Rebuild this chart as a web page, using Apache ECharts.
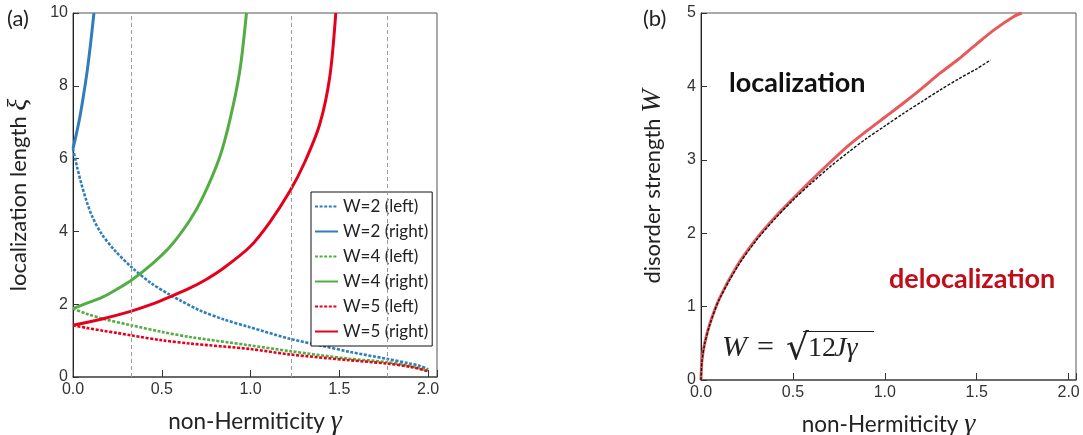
<!DOCTYPE html>
<html><head><meta charset="utf-8">
<script src="https://cdn.jsdelivr.net/npm/echarts@6/dist/echarts.min.js"></script>
<style>html,body{margin:0;padding:0;background:#fff}#c{width:1083px;height:435px}</style>
</head><body><div id="c"></div>
<script>
// ---------- Panel (a) data: localization length xi vs gamma ----------
const w2LeftGamma  = [0, 0.023, 0.047, 0.075, 0.109, 0.16, 0.235, 0.329, 0.442, 0.545, 0.601, 0.714, 0.85, 0.995, 1.221, 1.4, 1.559, 1.766, 1.897, 1.95, 2.0];
const w2LeftXi     = [6.27, 5.77, 5.31, 4.85, 4.40, 3.94, 3.48, 3.02, 2.57, 2.26, 2.11, 1.83, 1.58, 1.37, 1.05, 0.86, 0.69, 0.5, 0.37, 0.31, 0.21];
const w2RightGamma = [0, 0.02, 0.04, 0.06, 0.08, 0.1, 0.118];
const w2RightXi    = [6.27, 6.70, 7.18, 7.76, 8.41, 9.2, 10.0];
const w4LeftGamma  = [0, 0.075, 0.169, 0.329, 0.5, 0.657, 0.995, 1.221, 1.559, 1.766, 1.9, 2.0];
const w4LeftXi     = [1.88, 1.74, 1.6, 1.42, 1.24, 1.10, 0.87, 0.71, 0.5, 0.41, 0.3, 0.18];
const w4RightGamma = [0, 0.075, 0.169, 0.25, 0.329, 0.446, 0.545, 0.657, 0.732, 0.826, 0.883, 0.939, 0.977];
const w4RightXi    = [1.88, 2.02, 2.2, 2.42, 2.66, 3.11, 3.57, 4.3, 4.95, 6.04, 7.05, 8.4, 10.0];
const w5LeftGamma  = [0, 0.075, 0.169, 0.25, 0.329, 0.5, 0.657, 0.995, 1.221, 1.559, 1.766, 1.9, 2.0];
const w5LeftXi     = [1.42, 1.35, 1.27, 1.21, 1.14, 1.01, 0.92, 0.77, 0.62, 0.46, 0.37, 0.28, 0.16];
const w5RightGamma = [0, 0.169, 0.329, 0.445, 0.545, 0.657, 0.75, 0.845, 0.995, 1.108, 1.221, 1.305, 1.39, 1.446, 1.48];
const w5RightXi    = [1.42, 1.6, 1.81, 2.0, 2.2, 2.44, 2.68, 2.98, 3.57, 4.25, 5.1, 5.9, 6.95, 8.24, 10.0];
const guideGammas  = [0.33, 1.23, 1.77];
const seriesNamesA = ['W=2 (left)', 'W=2 (right)', 'W=4 (left)', 'W=4 (right)', 'W=5 (left)', 'W=5 (right)'];

// ---------- Panel (b) data: phase boundary W vs gamma ----------
const boundaryGamma = [0, 0.005, 0.02, 0.05, 0.1, 0.2, 0.3, 0.4, 0.5, 0.6, 0.7, 0.8, 0.9, 1.0, 1.1, 1.2, 1.3, 1.4, 1.5, 1.6, 1.7, 1.745];
const boundaryW     = [0, 0.26, 0.5, 0.78, 1.11, 1.57, 1.92, 2.21, 2.47, 2.72, 2.96, 3.19, 3.39, 3.58, 3.77, 3.97, 4.18, 4.37, 4.58, 4.78, 4.95, 5.0];
const sqrtGamma     = [0, 0.005, 0.02, 0.05, 0.1, 0.2, 0.3, 0.4, 0.5, 0.6, 0.7, 0.8, 0.9, 1.0, 1.1, 1.2, 1.3, 1.4, 1.5, 1.575];
const sqrtW         = [0, 0.25, 0.49, 0.77, 1.1, 1.55, 1.9, 2.19, 2.45, 2.68, 2.9, 3.1, 3.29, 3.46, 3.63, 3.79, 3.95, 4.1, 4.24, 4.36];

const BLUE = '#2f7dbd', GREEN = '#52ad43', RED = '#e5001b', PINK = '#e8595c';
const SANS = 'Lato', TICK = 'Liberation Sans', MATH = 'Liberation Serif';
const zip = (a, b) => a.map((v, i) => [v, b[i]]);

const chart = echarts.init(document.getElementById('c'), null, {renderer: 'canvas'});

function xAxisCfg(grid, max) {
  return {
    type: 'value', gridIndex: grid, min: 0, max: max, interval: 0.5,
    name: '{t|non-Hermiticity }{g|γ}', nameLocation: 'middle', nameGap: 31,
    nameTextStyle: {rich: {
      t: {fontFamily: SANS, fontSize: 22.5, color: '#222'},
      g: {fontFamily: MATH, fontStyle: 'italic', fontSize: 28, color: '#222'}
    }},
    axisLine: {show: true, lineStyle: {color: '#555', width: 1.5}},
    axisTick: {show: true, inside: true, length: 7, lineStyle: {color: '#333'}},
    axisLabel: {margin: 5, fontFamily: TICK, fontSize: 16, color: '#333',
      formatter: v => Math.abs(v * 2 - Math.round(v * 2)) < 1e-6 ? v.toFixed(1) : ''},
    splitLine: {show: false}
  };
}
function yAxisCfg(grid, max, interval, name, gap, pad) {
  return {
    type: 'value', gridIndex: grid, min: 0, max: max, interval: interval,
    name: name, nameLocation: 'middle', nameRotate: 90, nameGap: gap,
    nameTextStyle: {rich: {
      t: {fontFamily: SANS, fontSize: 22, color: '#222', padding: [0, 0, 0, pad]},
      g: {fontFamily: MATH, fontStyle: 'italic', fontSize: 28, color: '#222'}
    }},
    axisLine: {show: true, lineStyle: {color: '#222', width: 1}},
    axisTick: {show: true, inside: true, length: 6, lineStyle: {color: '#333'}},
    axisLabel: {margin: 5, fontFamily: TICK, fontSize: 16, color: '#333'},
    splitLine: {show: false}
  };
}

function lineA(name, gam, xi, color, dotted, extra) {
  return Object.assign({
    name: name, type: 'line', xAxisIndex: 0, yAxisIndex: 0,
    data: zip(gam, xi), showSymbol: false, symbol: 'none',
    smooth: 0.3, clip: true,
    lineStyle: {color: color, width: dotted ? 2.6 : 3, type: dotted ? [3, 1.6] : 'solid', cap: 'butt'},
    itemStyle: {color: color}, emphasis: {disabled: true}
  }, extra || {});
}

const option = {
  animation: false,
  backgroundColor: '#fff',
  grid: [
    {left: 73, top: 13, width: 364, height: 364, outerBoundsMode: 'none', containLabel: false, show: true, borderColor: '#555', borderWidth: 1, backgroundColor: 'transparent'},
    {left: 701, top: 13, width: 375, height: 367, outerBoundsMode: 'none', containLabel: false, show: true, borderColor: '#555', borderWidth: 1, backgroundColor: 'transparent'}
  ],
  xAxis: [xAxisCfg(0, 2.05), xAxisCfg(1, 2.04)],
  yAxis: [
    yAxisCfg(0, 10, 2, '{t|localization length }{g|ξ}', 40, 0),
    yAxisCfg(1, 5, 1, '{t|disorder strength }{g|W}', 34, 20)
  ],
  legend: {
    data: seriesNamesA, orient: 'vertical', left: 311, top: 192,
    backgroundColor: '#fff', borderColor: '#111', borderWidth: 1,
    padding: [6, 4, 6, 3], itemWidth: 23, itemHeight: 14, itemGap: 8,
    itemStyle: {opacity: 0},
    textStyle: {fontFamily: SANS, fontSize: 17, color: '#222'}
  },
  series: [
    lineA(seriesNamesA[0], w2LeftGamma, w2LeftXi, BLUE, true, {
      markLine: {silent: true, symbol: ['none', 'none'], label: {show: false},
        lineStyle: {color: '#9a9a9a', type: [4, 3], width: 1},
        data: guideGammas.map(g => ({xAxis: g}))}
    }),
    lineA(seriesNamesA[1], w2RightGamma, w2RightXi, BLUE, false),
    lineA(seriesNamesA[2], w4LeftGamma, w4LeftXi, GREEN, true),
    lineA(seriesNamesA[3], w4RightGamma, w4RightXi, GREEN, false),
    lineA(seriesNamesA[4], w5LeftGamma, w5LeftXi, RED, true),
    lineA(seriesNamesA[5], w5RightGamma, w5RightXi, RED, false),
    {
      name: 'sqrt', type: 'line', xAxisIndex: 1, yAxisIndex: 1,
      data: zip(sqrtGamma, sqrtW), symbol: 'none', smooth: 0.3,
      lineStyle: {color: '#111', width: 1.4, type: [3, 1.5]}, z: 3, emphasis: {disabled: true}
    },
    {
      name: 'boundary', type: 'line', xAxisIndex: 1, yAxisIndex: 1,
      data: zip(boundaryGamma, boundaryW), symbol: 'none', smooth: 0.3,
      lineStyle: {color: PINK, width: 3}, z: 2, emphasis: {disabled: true}
    }
  ],
  graphic: [
    {type: 'text', left: 7, top: 8, style: {text: '(a)', font: '22px Lato', fill: '#222'}},
    {type: 'text', left: 643, top: 8, style: {text: '(b)', font: '22px Lato', fill: '#222'}},
    {type: 'text', left: 729, top: 70, style: {text: 'localization', font: 'bold 27px Lato', fill: '#111'}},
    {type: 'text', left: 889, top: 266, style: {text: 'delocalization', font: 'bold 27px Lato', fill: '#c00d1a'}},
    {type: 'text', x: 722, y: 348, style: {text: 'W', font: 'italic 30px "Liberation Serif"', fill: '#222', verticalAlign: 'middle'}},
    {type: 'text', x: 757, y: 348, style: {text: '=', font: '30px "Liberation Serif"', fill: '#222', verticalAlign: 'middle'}},
    {type: 'text', x: 786, y: 350, style: {text: '√', font: '36px "DejaVu Serif"', fill: '#222', verticalAlign: 'middle'}},
    {type: 'text', x: 808, y: 349, style: {text: '12', font: '28px "Liberation Serif"', fill: '#222', verticalAlign: 'middle'}},
    {type: 'text', x: 834, y: 349, style: {text: 'Jγ', font: 'italic 28px "Liberation Serif"', fill: '#222', verticalAlign: 'middle'}},
    {type: 'line', shape: {x1: 803, y1: 331.5, x2: 874, y2: 331.5}, style: {stroke: '#222', lineWidth: 1.2}}
  ]
};
chart.setOption(option);
</script>
</body></html>
